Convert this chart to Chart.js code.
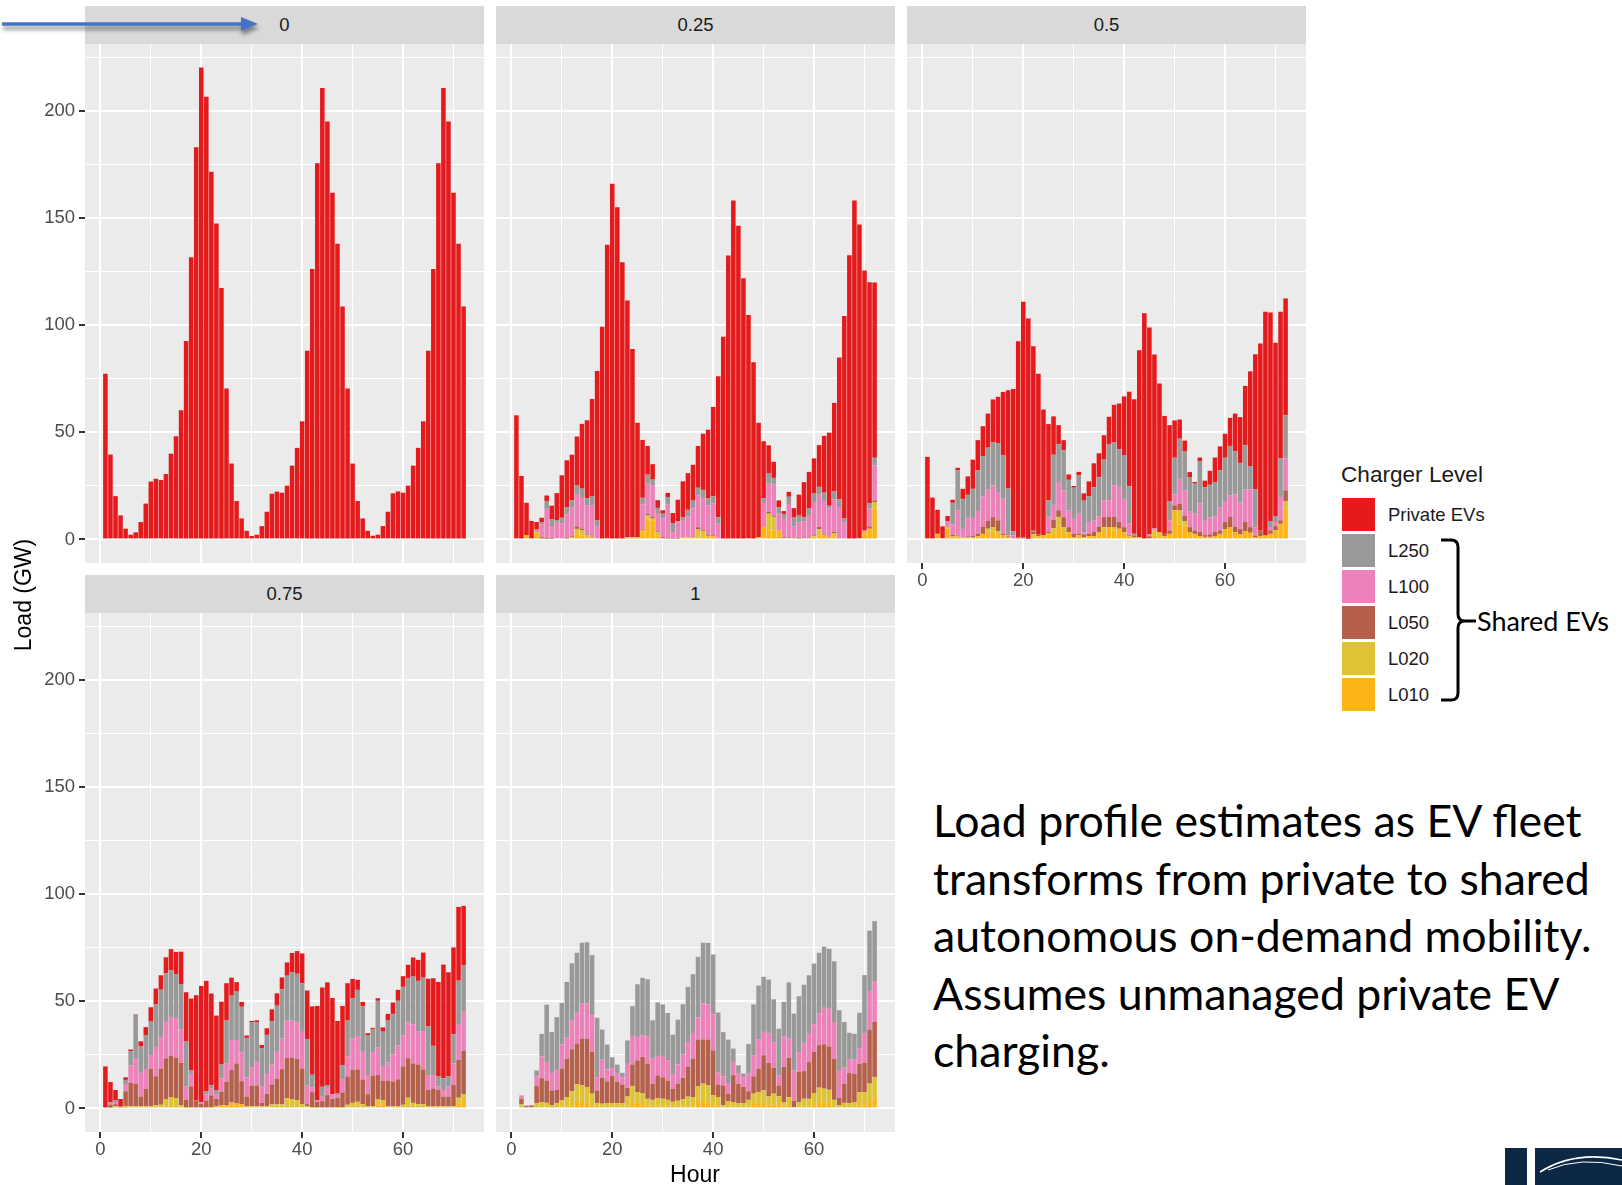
<!DOCTYPE html>
<html>
<head>
<meta charset="utf-8">
<script src="https://cdn.jsdelivr.net/npm/chart.js"></script>
<style>
  html, body { margin: 0; padding: 0; }
  body { width: 1622px; height: 1185px; background: #ffffff; position: relative; overflow: hidden;
         font-family: "Liberation Sans", Arial, sans-serif; }
  canvas { position: absolute; }
  .strip { position: absolute; background: #D9D9D9; color: #1A1A1A; font-size: 18.5px;
           display: flex; align-items: center; justify-content: center; }
  .txt { position: absolute; white-space: nowrap; line-height: 1; }
  .key { position: absolute; width: 33px; height: 33px; }
</style>
</head>
<body>
<script>
// ---- hours on the x axis ----
const hours = [1,2,3,4,5,6,7,8,9,10,11,12,13,14,15,16,17,18,19,20,21,22,23,24,25,26,27,28,29,30,31,32,33,34,35,36,
  37,38,39,40,41,42,43,44,45,46,47,48,49,50,51,52,53,54,55,56,57,58,59,60,61,62,63,64,65,66,67,68,69,70,71,72];
const xTickValues = [0, 10, 20, 30, 40, 50, 60, 70];
const xTickLabels = [0, 20, 40, 60];
const yTickValues = [0, 25, 50, 75, 100, 125, 150, 175, 200, 225];
const yTickLabels = [0, 50, 100, 150, 200];

// ---- series (legend order, top of stack first) ----
const seriesNames  = ['Private EVs', 'L250', 'L100', 'L050', 'L020', 'L010'];
const seriesColors = ['#E41A1C', '#999999', '#EC82B9', '#B5604A', '#DEC434', '#FDB515'];
const facetLabels  = ['0', '0.25', '0.5', '0.75', '1'];

// ---- share of shared fleet = 0 ----
const private_000 = [77.3,39.6,20.2,11.2,5,2.2,3.3,8.1,16.7,27, 28.3,27.7,30.5,40,48.1,60.3,92.5,131.6,182.9,220.1,
  206.5,171.5,147.4,117.3,70.4,35.4,17.9,9.8,4,1.6, 2.2,6.2,12.9,21.3,22.3,21.8,25.1,34.4,42.7,55.1,
  88,126.2,175.5,210.6,194.9,161.7,137.9,108.6,70.4,35.4, 17.9,9.8,4,1.7,2.2,6.2,12.9,21.5,22.4,21.8,
  25.1,34.4,42.7,55.1,88,126.2,175.5,210.6,194.9,161.7, 137.9,108.6];

// ---- share = 0.25 ----
const private_025 = [57.9,29.6,15.2,8.6,3.5,2,2.6,6.4,12.6,19.8, 21.8,21.3,22.9,30.2,36.4,45.5,69.8,99.2,136.8,165.9,
  155,129.3,110.4,87.8,53.4,27,13.4,7.2,3.6,1.6, 1.9,4.7,10.1,16.7,17.1,16.4,19.5,26.2,31.9,41.7,
  65.7,94.5,132.4,158.1,146.3,121.8,104.1,82.6,53.4,26.5, 13.2,7.5,3.1,1.3,2.3,4.4,9.8,16.4,17.1,16.4,
  19.5,26.5,34.1,41.1,66.2,94.5,132.6,158.1,146.4,121.2, 103.3,81.8];
const l250_025 = [0,0,0,0,0.6,1.2,3.6,3.6,1.2,2.6, 3.4,3.1,3.9,3.9,3.3,3.9,2.6,0,0,0,
  0,0,0,0,0,3,4.2,2.6,2.8,2.3, 3.6,4.2,0.4,1.6,3,3.9,3.6,3.7,3.4,3.4,
  3.1,0,0,0,0,0,0,0,0,2.3, 4.7,3.1,3.1,2.3,3.4,4.2,3.1,1.9,3.4,3.9,
  3.4,3.9,1.2,4,3.6,1.6,0,0,0,0, 2.3,3.6];
const l100_025 = [0,0,0,0,0.6,5.9,13.5,5,7.3,7, 10.9,13.6,15.1,14.8,13.6,14.8,6.2,0,0,0,
  0,0,0,0,0,11.7,14,14.8,8.1,8.6, 15.4,2.6,7.3,7.8,9.8,13.2,14.8,14.8,14,14.8,
  7.3,0,0,0,0,0,0,0,0,11.2, 13.2,14.8,7.8,8.6,15.6,5.1,7.3,7.5,10.1,15.6,
  15.3,15.6,13.2,15.1,15.1,8.1,0,0,0,0.8, 8.3,16.4];
const l050_025 = [0,0,0,0,0,0.6,0.5,0.4,0,0, 0.4,0.5,1.2,0.8,0.4,0.3,0,0,0,0,
  0,0,0,0,0,0.5,0.8,0.5,0.4,0.5, 0.4,0.4,0.3,0,0,0.3,1.1,0.6,0.4,0.4,
  0,0,0,0,0,0,0,0,0,0, 0.8,0.4,0,0.4,0.3,0.3,0.3,0.3,0.3,0.4,
  1.1,0.4,0.3,0.5,0,0,0,0,0,0, 1.1,0.8];
const l020_025 = [0,0,0,0,0,0,0,0,0,0, 0,0,2.3,2.3,0.9,0,0,0,0.6,0,
  0,0,1,0,0,0,1.9,1.1,1.4,0, 0,0,0,0,0,0,3.6,3,0,0,
  0,0,0,0,0,0,0,0,0,0, 7.8,6.4,0,0,0,0,0,0,0,0.5,
  2.8,0,0,1.5,0,0,0,0,0,0, 0,3];
const l010_025 = [0,0,1.9,0,3.4,0.4,0.3,0.3,0.5,0.5, 0.4,1,2.6,1.9,1,1,0,0,0,0,
  0,0,0,1,1,4.2,9.3,8.9,2,0.6, 0.4,0.4,0.4,1,1,1,1,1,1.5,1.5,
  0,0,0,0,0,0,0.6,0,1,5.8, 4.2,4,4.2,0.6,0.6,0.6,0.4,0.6,0.6,1,
  1.9,1.9,1,1.5,0,0,0,0,0.5,3.4, 5,14.3];

// ---- share = 0.5 ----
const private_050 = [38.5,19.5,11.2,5.5,2.3,1.4,1.1,4.7,8.6,13.6, 14,14,15.9,19.9,21.8,29.6,45.9,66.4,91.4,109.9,
  102.8,86,74.8,58.7,35.5,17.9,8.9,4.7,2.5,0.8, 1.6,3.4,7,11.2,11.2,11.4,12.9,17.6,21.3,27.6,
  44.1,62.8,87.2,105.5,96.5,81,69.3,55,35.4,17.4, 8.9,5.1,2.3,0.8,1.6,3.1,6.5,11.4,11.2,11.2,
  13.1,17.6,21.3,27.7,44.4,63.1,87.2,104.4,97.2,81, 68.5,54.5];
const l250_050 = [0,0,0,0,0,10.1,18.7,14,10.7,13.6, 19,18.8,19.6,20.2,22.6,20.2,21.8,1.9,0,0,
  0,0.6,0,0,8.1,23.4,17.6,18.7,14.3,14.5, 17.9,14.8,12,15.3,18.2,19,26,19.9,17.6,20.2,
  17.4,1,0,0,0,0,0,0,9,17.1, 18.7,18.2,15.9,14,19.9,15.6,15.3,16,17.4,20.2,
  23,20.1,18.4,20.7,10.7,17.6,0,0,2.8,2.6, 17.9,20.2];
const l100_050 = [0,0,0,0,2.8,4.8,11.8,3.9,8.6,8.3, 10.6,14,14.6,14.8,13.2,16.4,0.5,1.9,0,0,
  0,0,0,0,6.7,7,13.2,12.5,7.8,7, 9.3,1,5.5,5.5,4.8,7.8,7.8,14.8,16.4,13.2,
  5.5,0,0,0,0.8,1.1,0,0,4.7,5.1, 11.7,11.7,7.5,7.8,13.2,6.7,7.8,7.3,10.6,9.8,
  10.1,15,12.5,15.1,17.6,3.9,0,0,1.6,1.9, 10.9,14.8];
const l050_050 = [0,0,0,0,0,0.8,0.4,0,0.5,0.7, 1.1,3.4,3.6,4.7,5,0.6,0.4,0,1,1,
  0.3,1,1,0,0.5,3.9,3.1,4.7,2.3,1.6, 0.8,1.3,1.1,1.9,2.6,4.7,4.7,4.7,3.1,2.3,
  0.4,0.6,0,0,1,0,0,1.1,1.6,2.3, 3.1,2.6,2.3,1.6,1.9,0.8,1.2,1.9,1.6,3.4,
  4.7,2.6,2.3,4.2,2.6,0.8,2.6,0,1.6,2, 1.6,5];
const l020_050 = [0,0,0,0,0.8,0,0,0,0,0, 0,0,1.6,2,1.9,0,0,0,0,0,
  0,1.5,0,0,0,2.6,4,2.3,0,0, 0,0,0,0,0,2.3,0,1.8,0,0,
  0,0,0,0,0,2.2,2.4,0,0,0, 6.5,2,0,0,0,0,0,0,0,0,
  0,0,0,0,0,0,0,0,0,0, 0,3.6];
const l010_050 = [0,0,2.6,0.6,5,1.4,1.4,1,1,1, 1.6,2.6,3.4,3.7,2,2,1,0,0,0,
  0,1,1.5,1.9,3,2.6,6.5,3.4,3.4,1, 1.9,1,1.5,1.6,3.4,3.4,5.8,4,5,3.4,
  1.5,1,1.1,0,0.5,2,1,1.5,2.6,13.6, 7,6.5,3.4,2.6,1.6,1.2,1.2,1.6,2.6,4.7,
  5.8,3.4,2.5,3.9,3.1,1,1.6,1.8,2.6,4.2, 7.3,14.3];

// ---- share = 0.75 ----
const private_075 = [19.6,9.3,4.7,3.4,1.2,0.8,0.5,2.2,3.9,6.7, 7.3,6.7,7.5,9.8,10.3,15.1,23,33.5,49.1,54.2,
  51.6,42.8,34.7,29.1,17.4,8.4,4.4,2.3,1.1,0.5, 0.8,1.6,3.1,5.5,5.8,5.5,6.2,8.9,10.6,13.9,
  22.6,31.9,43.9,46.3,48,44.9,33.8,27.6,17.4,9, 4.7,2,1.1,0.5,1.2,2,3.1,5.3,5.1,5,
  6.2,8.9,9.8,11.7,22.3,31.5,44.1,53,48.6,40.5, 34.4,27.6];
const l250_075 = [0,0.4,0.9,0,1.9,6.7,19.8,12.5,15.6,15.6, 19.9,22.1,22.6,21.8,20.6,21.2,21,1.6,0,0,
  1.4,1.6,1.9,6.7,19.9,20.7,22.6,21.3,18.4,21, 18.2,17.9,18.2,20.2,21.5,23,21,22.6,22.6,22.7,
  21.8,5.9,0,4.7,1.2,0,0.8,6.5,16.8,18.7, 21.5,21.3,18.4,10.9,21.8,16.4,19.6,18.8,20.9,22.6,
  20.7,22.3,23.7,24.9,22.6,13.7,4.7,5.5,4.7,13.6, 20.6,21.8];
const l100_075 = [0,0.8,1,0,3.4,8.1,12.1,11.1,9.3,6.5, 13.7,14.8,17,18.2,18.4,15.6,6.2,5.8,0,0.8,
  2.8,3.1,2.3,6.2,8.6,14,10.9,13.4,9,8.6, 11.4,7.5,9.3,9.3,12.5,14.3,17.4,17.4,17.1,17.1,
  8.6,2.2,0.8,2,3.4,2.2,1.2,6.2,9.3,14.8, 15.6,12.9,9,10.9,12.8,6.5,8.4,12.8,15.7,14.5,
  16.7,18.2,15.3,17.9,7,6.2,1.6,3.1,4.7,10.1, 16.4,18.2];
const l050_075 = [0,1.5,1,0.5,7,10.9,10.4,4.5,8.1,17.4, 13.6,16.8,19.2,19.2,19,19.8,3.4,9.7,3.1,1.5,
  3.1,5.5,3.4,6.2,10.9,15.1,18.7,10.7,4.5,9.7, 9.7,1.6,5.8,9.3,12,16.4,18.8,19.2,19.2,16.7,
  1,7,2.5,2.8,5.6,3.8,4.4,6.9,13.2,15.3, 15.1,11.5,5.6,14.3,11.2,9,12,11.5,12.6,17.9,
  18.4,18.4,18.5,16.2,7.6,8.3,7.6,4.5,4.5,9.9, 17.6,20.2];
const l020_075 = [0,0.3,0.5,0.5,0.6,0.5,0.5,0.5,0.5,0.5, 0.7,1.2,3.2,4.7,4.1,0.9,0.3,0.3,0.3,0.3,
  0.3,0.3,0,0,0,0,0,0,0,0.5, 0.5,0.5,0.5,1.4,1.4,1.4,4.2,3.9,3.4,1.4,
  0.5,0.3,0.3,0.3,0.3,0.3,0.3,0.3,1.2,2.1, 2.6,1.5,0.5,0.5,2.4,1.9,0.5,0.5,0.5,1.2,
  4.5,2.1,1.5,1.5,0.5,0.5,0.5,0.5,0.5,0.5, 3,3.2];
const l010_075 = [0,0,0.5,0,0.4,0.5,0.5,0.5,0.5,0.5, 0.7,0.5,1,0.6,0.6,0.5,0.3,0.3,0.3,0.3,
  0.3,0.3,1,1.6,1.6,2.8,2.3,2,1,0.5, 0.5,0.5,0.5,0.5,0.5,0.5,0.5,0.5,0.5,0.5,
  0.5,0.3,0.3,0.3,0.3,0.3,0.3,0.3,0.5,0.5, 0.5,0.5,0.5,0.5,2,2,0.5,0.5,0.5,0.5,
  0.5,0.5,0.5,0.5,0.5,0.5,0.5,0.5,0.5,0.5, 2,3.5];

// ---- share = 1 (no private EVs left) ----
const l250_100 = [0,0,0,0,2.8,10.6,26.8,19.2,24.6,19.3, 26,26.5,28,28.3,28.5,28,27.7,14,11.7,5.1,
  4.2,2,10.9,14,24.6,26.8,26.5,17.9,25,24, 22,18.3,20.8,23.3,25.7,27.4,28.3,28.3,28.6,27.9,
  28,20.7,20.6,6.2,3.9,1.9,13.7,23.7,25.2,25.7, 25.2,20,21.8,16,26.2,26.5,26,27.1,27.3,28.3,
  28.3,28.5,28,28.3,28.3,21.3,12.6,12.1,16.5,27.3, 28.5,28.3];
const l100_100 = [0,1.6,0.3,0,4.5,10.1,8.6,8.1,9.3,11.4, 9.8,13.6,14.3,16.4,16.4,17.1,6.2,8.6,5.5,3.7,
  3.9,3.4,11.2,13.2,10.9,10.1,12.8,11.7,9,10, 9.5,7,9,11,11.5,12,10.3,16.8,16.5,16.8,
  5.5,4.2,4.7,6.2,4.7,4.4,8.4,9.8,13.6,10.9, 13.7,12,4.7,14.3,8.9,14.1,9.3,13.2,13.2,12.9,
  14.8,17,17.6,17.1,12.5,7.5,6.2,6.5,7.3,13.7, 17.6,18.7];
const l050_100 = [0,2.6,0.6,0.8,7.9,11.2,10.4,7,6.2,14.8, 17.9,19.5,19,21.8,22.6,19.5,5.9,12,10.1,12.6,
  9.8,8.7,4,10,14.8,16.8,16.4,7.5,10.6,10, 9,6,8,10,14,17.9,21.8,20.6,21.3,21,
  5.9,9.3,3.4,12.5,9,7.5,4,8.1,10.9,16.4, 15.6,12,5,16.4,18.4,3,14,12.9,17.1,19.2,
  19.8,20.7,20.2,19.2,3.5,8.9,14,13.2,13.2,13.6, 25.2,25.7];
const l020_100 = [0,1.9,0.5,0.6,1.9,2.3,2,1,1.9,2.9, 4.3,6.7,8.3,7.8,7.5,5.4,1.9,1.6,1.9,1.9,
  1.9,1.9,4.6,8,5.1,4.7,3.1,3,3.8,3.5, 3,2.5,3,3.5,4.5,4.3,7.3,8.6,8.3,4.6,
  3.8,0.8,2.8,2.4,1.9,1.9,3.2,4.4,5.1,5.9, 4.2,5,4,2,3.8,0,2.4,3.5,3.5,5.7,
  6.7,6.7,6.2,3,1,2,1.9,2.4,6.1,6.1, 8.6,9.7];
const l010_100 = [0,0,0,0,0.6,0.6,0.6,0.4,0.6,0.8, 1,1.4,3,3,2.5,1.5,0.6,0.6,0.6,0.6,
  0.6,0.6,1,2.5,2.5,2.5,1.4,1,1,1, 1,0.6,0.6,0.8,1,1,3,3,2.5,1.5,
  1.5,0.6,0.6,0.6,0.6,0.6,0.8,2.5,2.5,2.5, 1.4,1.9,1.7,1,1.5,0.6,0.6,1,1,1.5,
  3,2.5,2.5,1,0.5,0.6,0.6,0.6,1.5,1.5, 3,5];

// ---- facet grid geometry ----
const colLeft = [85, 496, 907];
const rowTop = [44, 613];
const panelW = 399, panelH = 519;
const stripH = 38.5;
const xMin = -3.045, xMax = 76.045;
const yMin = -11.0, yMax = 231.1;

const panels = [
  { label: facetLabels[0], col: 0, row: 0, yLab: true,  xLab: false,
    stack: { 'Private EVs': private_000 } },
  { label: facetLabels[1], col: 1, row: 0, yLab: false, xLab: false,
    stack: { 'Private EVs': private_025, L250: l250_025, L100: l100_025, L050: l050_025, L020: l020_025, L010: l010_025 } },
  { label: facetLabels[2], col: 2, row: 0, yLab: false, xLab: true,
    stack: { 'Private EVs': private_050, L250: l250_050, L100: l100_050, L050: l050_050, L020: l020_050, L010: l010_050 } },
  { label: facetLabels[3], col: 0, row: 1, yLab: true,  xLab: true,
    stack: { 'Private EVs': private_075, L250: l250_075, L100: l100_075, L050: l050_075, L020: l020_075, L010: l010_075 } },
  { label: facetLabels[4], col: 1, row: 1, yLab: false, xLab: true,
    stack: { L250: l250_100, L100: l100_100, L050: l050_100, L020: l020_100, L010: l010_100 } }
];

// grey panel background behind the grid
const panelBg = {
  id: 'panelBg',
  beforeDraw(chart) {
    const { ctx, chartArea: a } = chart;
    ctx.save();
    ctx.fillStyle = '#EBEBEB';
    ctx.fillRect(a.left, a.top, a.right - a.left, a.bottom - a.top);
    ctx.restore();
  }
};

const tickFont = { family: '"Liberation Sans", Arial, sans-serif', size: 18.5 };

function buildPanel(p) {
  const padL = p.yLab ? 60 : 0;
  const padB = p.xLab ? 34 : 0;
  const w = panelW + padL, h = panelH + padB;
  const left = colLeft[p.col], top = rowTop[p.row];

  const strip = document.createElement('div');
  strip.className = 'strip';
  strip.style.left = left + 'px';
  strip.style.top = (top - stripH) + 'px';
  strip.style.width = panelW + 'px';
  strip.style.height = (stripH - 0.5) + 'px';
  strip.textContent = p.label;
  document.body.appendChild(strip);

  const cv = document.createElement('canvas');
  cv.width = w; cv.height = h;
  cv.style.left = (left - padL) + 'px';
  cv.style.top = top + 'px';
  cv.style.width = w + 'px';
  cv.style.height = h + 'px';
  document.body.appendChild(cv);

  // bottom of the stack first: L010 ... Private EVs
  const order = seriesNames.slice().reverse();
  const datasets = order.filter(n => p.stack[n]).map(n => ({
    label: n,
    data: p.stack[n].map((v, i) => ({ x: hours[i], y: v })),
    backgroundColor: seriesColors[seriesNames.indexOf(n)],
    borderWidth: 0,
    inflateAmount: 0,
    barPercentage: 0.9,
    categoryPercentage: 1.0
  }));

  // the plot area must fill the canvas exactly, so drop the label overhang padding
  const noOverhang = ax => { ax.paddingTop = 0; ax.paddingBottom = 0; ax.paddingLeft = 0; ax.paddingRight = 0; };

  new Chart(cv, {
    type: 'bar',
    data: { datasets },
    options: {
      responsive: false,
      animation: false,
      devicePixelRatio: 1,
      layout: { padding: 0, autoPadding: false },
      plugins: { legend: { display: false }, tooltip: { enabled: false } },
      scales: {
        x: {
          type: 'linear', min: xMin, max: xMax, stacked: true, offset: false,
          afterBuildTicks: ax => { ax.ticks = xTickValues.map(v => ({ value: v })); },
          afterFit: ax => { ax.height = padB; noOverhang(ax); },
          border: { display: false },
          grid: {
            offset: false, color: '#FFFFFF',
            lineWidth: c => (c.tick && xTickLabels.includes(c.tick.value)) ? 2 : 1,
            drawTicks: p.xLab, tickLength: 6,
            tickColor: c => (c.tick && xTickLabels.includes(c.tick.value)) ? '#333333' : 'rgba(0,0,0,0)'
          },
          ticks: {
            display: p.xLab, autoSkip: false, maxRotation: 0, padding: 1,
            color: '#4D4D4D', font: tickFont,
            callback: v => xTickLabels.includes(v) ? String(v) : ''
          }
        },
        y: {
          type: 'linear', min: yMin, max: yMax, stacked: true,
          afterBuildTicks: ax => { ax.ticks = yTickValues.map(v => ({ value: v })); },
          afterFit: ax => { ax.width = padL; noOverhang(ax); },
          border: { display: false },
          grid: {
            color: '#FFFFFF',
            lineWidth: c => (c.tick && yTickLabels.includes(c.tick.value)) ? 2 : 1,
            drawTicks: p.yLab, tickLength: 6,
            tickColor: c => (c.tick && yTickLabels.includes(c.tick.value)) ? '#333333' : 'rgba(0,0,0,0)'
          },
          ticks: {
            display: p.yLab, autoSkip: false, padding: 4,
            color: '#4D4D4D', font: tickFont,
            callback: v => yTickLabels.includes(v) ? String(v) : ''
          }
        }
      }
    },
    plugins: [panelBg]
  });
}

panels.forEach(buildPanel);

function addText(str, x, y, css) {
  const d = document.createElement('div');
  d.className = 'txt';
  d.textContent = str;
  d.style.left = x + 'px';
  d.style.top = y + 'px';
  Object.assign(d.style, css || {});
  document.body.appendChild(d);
  return d;
}

// axis titles
addText('Hour', 695, 1174, { fontSize: '23px', color: '#000', transform: 'translate(-50%,-50%)' });
addText('Load (GW)', 23, 595, { fontSize: '23px', color: '#000', transform: 'translate(-50%,-50%) rotate(-90deg)' });

// legend
addText('Charger Level', 1341, 475, { fontSize: '22.6px', color: '#1A1A1A', transform: 'translateY(-50%)' });
seriesNames.forEach((n, i) => {
  const k = document.createElement('div');
  k.className = 'key';
  k.style.left = '1342px';
  k.style.top = (498 + 36 * i) + 'px';
  k.style.background = seriesColors[i];
  document.body.appendChild(k);
  addText(n, 1388, 514.5 + 36 * i, { fontSize: '18.5px', color: '#1A1A1A', transform: 'translateY(-50%)' });
});

// annotation text
const noteFamily = 'Lato, "Open Sans", sans-serif';
function fitSize(text, family, targetW) {
  const c = document.createElement('canvas').getContext('2d');
  c.font = '100px ' + family;
  return 100 * targetW / c.measureText(text).width;
}
const noteLines = ['Load profile estimates as EV fleet', 'transforms from private to shared',
  'autonomous on-demand mobility.', 'Assumes unmanaged private EV', 'charging.'];
const noteSize = fitSize(noteLines[1], noteFamily, 657);
noteLines.forEach((t, i) => {
  addText(t, 933, 820 + 57.5 * i, { fontFamily: noteFamily, fontSize: noteSize + 'px', color: '#000', transform: 'translateY(-50%)' });
});
const sharedSize = fitSize('Shared EVs', noteFamily, 132);
addText('Shared EVs', 1477, 621, { fontFamily: noteFamily, fontSize: sharedSize + 'px', color: '#000', transform: 'translateY(-50%)' });
</script>

<!-- bracket grouping the shared-fleet charger levels -->
<svg style="position:absolute;left:0;top:0;pointer-events:none" width="1622" height="1185">
  <path d="M1441 540 H1451 Q1458 540 1458 547 V614 Q1458 621 1465 621 H1476 M1465 621 Q1458 621 1458 628 V693 Q1458 700 1451 700 H1441"
        fill="none" stroke="#000" stroke-width="3"/>
  <defs>
    <filter id="sh" x="-5%" y="-100%" width="110%" height="400%">
      <feGaussianBlur in="SourceAlpha" stdDeviation="2.2"/>
      <feOffset dx="1" dy="4" result="b"/>
      <feComponentTransfer><feFuncA type="linear" slope="0.45"/></feComponentTransfer>
      <feMerge><feMergeNode/><feMergeNode in="SourceGraphic"/></feMerge>
    </filter>
  </defs>
  <g filter="url(#sh)">
    <line x1="2" y1="24" x2="244" y2="24" stroke="#4472C4" stroke-width="3.5"/>
    <polygon points="241,17 258,24 241,31" fill="#4472C4"/>
  </g>
  <!-- corner logo -->
  <rect x="1505" y="1148" width="22" height="37" fill="#0D2844"/>
  <rect x="1535" y="1148" width="87" height="37" fill="#0D2844"/>
  <path d="M1540 1172 Q1575 1150 1622 1160" fill="none" stroke="#ffffff" stroke-width="1.6"/>
  <path d="M1548 1170 Q1580 1156 1622 1166" fill="none" stroke="#ffffff" stroke-width="1"/>
</svg>
</body>
</html>
